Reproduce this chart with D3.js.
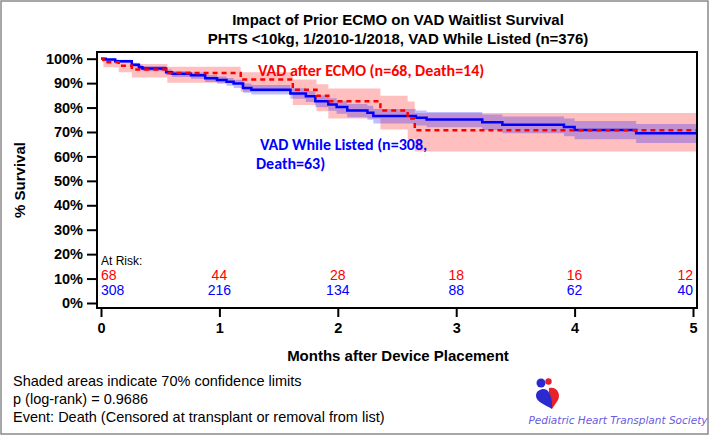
<!DOCTYPE html>
<html>
<head>
<meta charset="utf-8">
<script src="https://cdn.jsdelivr.net/npm/d3@7"></script>
<style>
  body { margin: 0; background: #fff; }
  svg { display: block; font-family: "Liberation Sans", Arial, sans-serif; }
</style>
</head>
<body>
<div id="chart"></div>
<script>
// KM estimates (months, % survival, 70% CL)
const ecmoTime = [0, 0.02, 0.15, 0.26, 0.56, 1.18, 1.62, 1.82, 1.92, 2.36, 2.59, 2.65]
const ecmoSurv = [100, 98.5, 97.1, 95.6, 94.1, 91.5, 87.3, 84.8, 82.6, 78.8, 75.5, 70.7]
const ecmoLow  = [100, 96.5, 94.5, 92.3, 90.2, 86.5, 81.0, 78.5, 75.5, 71.0, 67.0, 62.0]
const ecmoHigh = [100, 99.7, 98.9, 97.8, 96.7, 94.5, 91.5, 89.5, 87.8, 84.8, 82.5, 77.8]

const listedTime = [0, 0.04, 0.12, 0.26, 0.32, 0.35, 0.55, 0.60, 0.76, 0.88, 0.98, 1.06, 1.12, 1.20, 1.27,
  1.60, 1.73, 1.81, 1.92, 1.99, 2.08, 2.25, 2.30, 2.66, 2.75, 3.22, 3.39, 3.91, 4.00, 4.52]
const listedSurv = [100, 99.7, 99.0, 97.5, 96.5, 96.0, 94.5, 93.8, 93.2, 92.0, 91.3, 90.6, 89.8, 88.0, 87.3,
  85.8, 84.6, 82.6, 81.3, 80.2, 78.8, 77.9, 76.5, 75.8, 75.1, 74.0, 73.0, 72.0, 70.8, 69.5]
const listedLow  = [100, 99.2, 98.2, 96.5, 95.4, 94.9, 93.2, 92.5, 91.8, 90.5, 89.7, 88.9, 88.0, 86.1, 85.3,
  83.6, 82.3, 80.1, 78.7, 77.5, 76.0, 75.0, 73.5, 72.7, 71.9, 70.7, 69.5, 68.3, 67.0, 65.5]
const listedHigh = [100, 100, 99.6, 98.3, 97.5, 97.0, 95.6, 95.0, 94.4, 93.3, 92.7, 92.1, 91.4, 89.8, 89.2,
  87.9, 86.8, 85.0, 83.8, 82.8, 81.5, 80.7, 79.4, 78.8, 78.2, 77.2, 76.3, 75.5, 74.5, 73.3]

const riskMonths = [0, 1, 2, 3, 4, 5]
const ecmoAtRisk = [68, 44, 28, 18, 16, 12]
const listedAtRisk = [308, 216, 134, 88, 62, 40]

const xTicks = [0, 1, 2, 3, 4, 5]
const yTicks = [0, 10, 20, 30, 40, 50, 60, 70, 80, 90, 100]

const width = 709, height = 435
const box = { left: 97, right: 697, top: 52, bottom: 308 }

const svg = d3.select("#chart").append("svg")
  .attr("width", width)
  .attr("height", height)

// outer frame of the slide
svg.append("rect")
  .attr("x", 1).attr("y", 1)
  .attr("width", width - 2).attr("height", height - 2)
  .attr("fill", "#fff").attr("stroke", "#8a8a8a").attr("stroke-width", 1.5)

const x = d3.scaleLinear().domain([0, 5]).range([101, 693])
const y = d3.scaleLinear().domain([0, 100]).range([303, 58.7])
const xEnd = x.invert(box.right)

function toRows(t, s, lo, hi) {
  let rows = t.map((d, i) => ({ t: d, s: s[i], lo: lo[i], hi: hi[i] }))
  let last = rows[rows.length - 1]
  rows.push({ t: xEnd, s: last.s, lo: last.lo, hi: last.hi })
  return rows
}
const ecmo = toRows(ecmoTime, ecmoSurv, ecmoLow, ecmoHigh)
const listed = toRows(listedTime, listedSurv, listedLow, listedHigh)

svg.append("clipPath").attr("id", "plotclip")
  .append("rect")
  .attr("x", box.left).attr("y", box.top)
  .attr("width", box.right - box.left).attr("height", box.bottom - box.top)

const plot = svg.append("g").attr("clip-path", "url(#plotclip)")

const band = d3.area().curve(d3.curveStepAfter)
  .x(d => x(d.t)).y0(d => y(d.lo)).y1(d => y(d.hi))
const line = d3.line().curve(d3.curveStepAfter)
  .x(d => x(d.t)).y(d => y(d.s))

plot.append("path").attr("d", band(ecmo))
  .attr("fill", "#ff0000").attr("fill-opacity", 0.25)
plot.append("path").attr("d", band(listed))
  .attr("fill", "#0000ff").attr("fill-opacity", 0.25)

plot.append("path").attr("d", line(listed))
  .attr("fill", "none").attr("stroke", "#0000ff").attr("stroke-width", 2.5)
plot.append("path").attr("d", line(ecmo))
  .attr("fill", "none").attr("stroke", "#ff0000").attr("stroke-width", 2.5)
  .attr("stroke-dasharray", "5,4")

// plot box
svg.append("rect")
  .attr("x", box.left).attr("y", box.top)
  .attr("width", box.right - box.left).attr("height", box.bottom - box.top)
  .attr("fill", "none").attr("stroke", "#000").attr("stroke-width", 2)

// axes
const yAxis = svg.append("g")
  .attr("transform", "translate(" + (box.left - 1) + ",0)")
  .call(d3.axisLeft(y).tickValues(yTicks).tickFormat(d => d + "%").tickSize(9).tickPadding(4))
yAxis.select(".domain").remove()
yAxis.selectAll("line").attr("stroke-width", 2)
yAxis.selectAll("text").attr("font-size", 14.5).attr("font-weight", "bold")
  .attr("font-family", "'Liberation Sans', Arial, sans-serif").attr("fill", "#000")

const xAxis = svg.append("g")
  .attr("transform", "translate(0," + (box.bottom + 1) + ")")
  .call(d3.axisBottom(x).tickValues(xTicks).tickFormat(d3.format("d")).tickSize(8).tickPadding(6))
xAxis.select(".domain").remove()
xAxis.selectAll("line").attr("stroke-width", 2)
xAxis.selectAll("text").attr("font-size", 14.5).attr("font-weight", "bold")
  .attr("font-family", "'Liberation Sans', Arial, sans-serif").attr("fill", "#000")

svg.append("text")
  .attr("x", 398).attr("y", 361)
  .attr("text-anchor", "middle")
  .attr("font-size", 15).attr("font-weight", "bold")
  .text("Months after Device Placement")

svg.append("text")
  .attr("transform", "translate(25,180) rotate(-90)")
  .attr("text-anchor", "middle")
  .attr("font-size", 15).attr("font-weight", "bold")
  .text("% Survival")

// titles
svg.append("text")
  .attr("x", 398).attr("y", 25)
  .attr("text-anchor", "middle")
  .attr("font-size", 15).attr("font-weight", "bold")
  .text("Impact of Prior ECMO on VAD Waitlist Survival")
svg.append("text")
  .attr("x", 398).attr("y", 44)
  .attr("text-anchor", "middle")
  .attr("font-size", 15).attr("font-weight", "bold")
  .text("PHTS <10kg, 1/2010-1/2018, VAD While Listed (n=376)")

// curve labels
const labelFont = "Carlito, Calibri, Lato, sans-serif"
svg.append("text")
  .attr("x", 258).attr("y", 76)
  .attr("font-family", labelFont).attr("font-size", 16).attr("font-weight", "bold")
  .attr("fill", "#ff0000")
  .text("VAD after ECMO (n=68, Death=14)")
svg.append("text")
  .attr("x", 260).attr("y", 150)
  .attr("font-family", labelFont).attr("font-size", 16).attr("font-weight", "bold")
  .attr("fill", "#0000ff")
  .text("VAD While Listed (n=308,")
svg.append("text")
  .attr("x", 256).attr("y", 169)
  .attr("font-family", labelFont).attr("font-size", 16).attr("font-weight", "bold")
  .attr("fill", "#0000ff")
  .text("Death=63)")

// at risk table
svg.append("text")
  .attr("x", 101).attr("y", 265)
  .attr("font-size", 12)
  .text("At Risk:")

function anchorFor(i, n) {
  if (i == 0) return "start"
  if (i == n - 1) return "end"
  return "middle"
}
svg.selectAll("text.riskEcmo")
  .data(ecmoAtRisk)
  .enter()
  .append("text")
  .attr("class", "riskEcmo")
  .attr("x", (d, i) => x(riskMonths[i]))
  .attr("y", 280)
  .attr("text-anchor", (d, i) => anchorFor(i, ecmoAtRisk.length))
  .attr("font-size", 14)
  .attr("fill", "#ff0000")
  .text(d => d)
svg.selectAll("text.riskListed")
  .data(listedAtRisk)
  .enter()
  .append("text")
  .attr("class", "riskListed")
  .attr("x", (d, i) => x(riskMonths[i]))
  .attr("y", 295)
  .attr("text-anchor", (d, i) => anchorFor(i, listedAtRisk.length))
  .attr("font-size", 14)
  .attr("fill", "#0000ff")
  .text(d => d)

// footnotes
const notes = [
  "Shaded areas indicate 70% confidence limits",
  "p (log-rank) = 0.9686",
  "Event: Death (Censored at transplant or removal from list)"
]
svg.selectAll("text.note")
  .data(notes)
  .enter()
  .append("text")
  .attr("class", "note")
  .attr("x", 13)
  .attr("y", (d, i) => 386 + i * 18)
  .attr("font-size", 14.5)
  .text(d => d)

// society logo
const logo = svg.append("g")
logo.append("circle").attr("cx", 541).attr("cy", 383).attr("r", 4.5).attr("fill", "#2a2ad0")
logo.append("circle").attr("cx", 548.5).attr("cy", 381.5).attr("r", 3.2).attr("fill", "#e8202a")
logo.append("path")
  .attr("d", "M549,388 C557,386 561,394 558,400 L552,409 C551,402 548,396 549,388 Z")
  .attr("fill", "#e8202a")
logo.append("path")
  .attr("d", "M544,389 C549,389 553,398 552,409 C546,405 536,402 536,396 C536,391 540,389 544,389 Z")
  .attr("fill", "#2a2ad0")
logo.append("text")
  .attr("x", 618).attr("y", 424)
  .attr("text-anchor", "middle")
  .attr("font-family", "'DejaVu Sans', sans-serif")
  .attr("font-style", "italic")
  .attr("font-size", 10.5)
  .attr("fill", "#6a5ae0")
  .text("Pediatric Heart Transplant Society")
</script>
</body>
</html>
